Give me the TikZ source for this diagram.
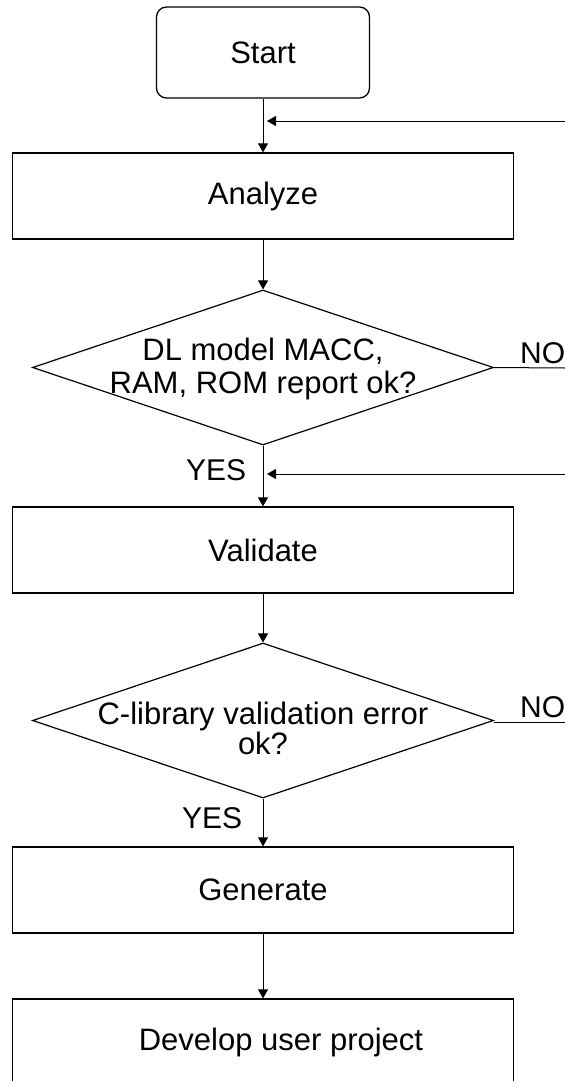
\documentclass[tikz,border=0pt]{standalone}
\usepackage{fontspec}
\setmainfont{Liberation Sans}
\usetikzlibrary{shapes.geometric,arrows.meta}

\tikzset{
	box/.style={draw, line width=1.3pt, minimum width=501pt, minimum height=86pt, inner sep=0pt, font=\fontsize{31}{34}\selectfont},
	startbox/.style={box, rounded corners=10pt, minimum width=213pt, minimum height=91pt},
	decision/.style={draw, diamond, aspect=3, line width=1.2pt, minimum width=461pt, minimum height=155pt, inner sep=0pt},
	dtext/.style={align=center, inner sep=0pt},
	lbl/.style={inner sep=0pt, font=\fontsize{30}{34}\selectfont},
	flow/.style={->, line width=1pt}
}

\begin{document}
\begin{tikzpicture}[x=1pt, y=-1pt, >={Triangle[length=9pt,width=10pt]}]
	\useasboundingbox (0,0) rectangle (565,1081);

	\node[startbox] (start) at (263,52.5) {Start};
	\node[box] (analyze) at (263,196) {Analyze};
	\node[decision] (check1) at (263,367.5) {};
	\node[dtext, font=\fontsize{31}{33}\selectfont] (q1) at (263,369) {DL model MACC,\\RAM, ROM report ok?};
	\node[box] (validate) at (263,550) {Validate};
	\node[decision] (check2) at (263,720.5) {};
	\node[dtext, font=\fontsize{31}{22}\selectfont] (q2) at (263,728) {C-library validation error\\ok?};
	\node[box] (generate) at (263,890) {Generate};
	\node[box] (develop) at (263,1042) {\hspace{36pt}Develop user project};

	% main flow
	\draw[flow] (start) -- (analyze);
	\draw[flow] (analyze) -- (check1);
	\draw[flow] (check1) -- (validate);
	\draw[flow] (validate) -- (check2);
	\draw[flow] (check2) -- (generate);
	\draw[flow] (generate) -- (develop);

	% NO branches and returns
	\coordinate (out1) at (565,368);
	\coordinate (out2) at (565,722);
	\draw[line width=1pt] (check1.east) -- (out1);
	\draw[line width=1pt] (check2.east |- out2) -- (out2);
	\node[lbl, anchor=base west] (no1) at (520,363) {NO};
	\node[lbl, anchor=base west] (no2) at (520,717) {NO};

	\coordinate (back1) at (565,121);
	\coordinate (back2) at (565,474);
	\draw[flow, shorten >=4pt] (back1) -- (back1 -| start.south);
	\draw[flow, shorten >=4pt] (back2) -- (back2 -| check1.south);

	\node[lbl, anchor=base west] (yes1) at (186,480) {YES};
	\node[lbl, anchor=base west] (yes2) at (182,828) {YES};
\end{tikzpicture}
\end{document}
